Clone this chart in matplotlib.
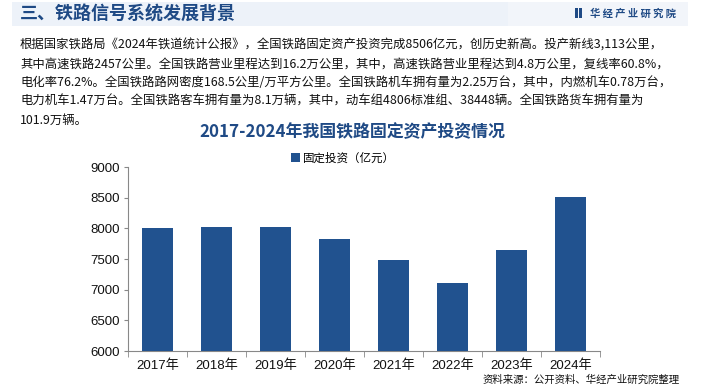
import matplotlib
matplotlib.use("Agg")
import matplotlib.pyplot as plt
from matplotlib.patches import Rectangle

plt.rcParams['font.family'] = ['Noto Sans CJK SC', 'DejaVu Sans']

years = ['2017年', '2018年', '2019年', '2020年', '2021年', '2022年', '2023年', '2024年']
investment = [8010, 8028, 8029, 7819, 7489, 7109, 7645, 8506]
yticks = [6000, 6500, 7000, 7500, 8000, 8500, 9000]

header = '三、铁路信号系统发展背景'
body_lines = [
    '根据国家铁路局《2024年铁道统计公报》，全国铁路固定资产投资完成8506亿元，创历史新高。投产新线3,113公里，',
    '其中高速铁路2457公里。全国铁路营业里程达到16.2万公里，其中，高速铁路营业里程达到4.8万公里，复线率60.8%，',
    '电化率76.2%。全国铁路路网密度168.5公里/万平方公里。全国铁路机车拥有量为2.25万台，其中，内燃机车0.78万台，',
    '电力机车1.47万台。全国铁路客车拥有量为8.1万辆，其中，动车组4806标准组、38448辆。全国铁路货车拥有量为',
    '101.9万辆。',
]
chart_title = '2017-2024年我国铁路固定资产投资情况'
legend_label = '固定投资（亿元）'
source = '资料来源：公开资料、华经产业研究院整理'

W, H = 704, 387
blue = '#21528F'
dark = '#1F4A85'
fig = plt.figure(figsize=(W / 100, H / 100), dpi=100)

# header band
fig.patches.append(Rectangle((12 / W, 1 - 26 / H), 496 / W, 24 / H, transform=fig.transFigure,
                             facecolor='#EDF2F9', edgecolor='none', zorder=1))
fig.patches.append(Rectangle((508 / W, 1 - 26 / H), 180 / W, 24 / H, transform=fig.transFigure,
                             facecolor='#F2F5FA', edgecolor='none', zorder=1))
fig.text(20 / W, 1 - 14 / H, header, fontsize=13, fontweight='bold', color=dark,
         va='center', ha='left', zorder=2)
fig.patches.append(Rectangle((575 / W, 1 - 18 / H), 3 / W, 10 / H, transform=fig.transFigure,
                             facecolor=dark, edgecolor='none', zorder=2))
fig.patches.append(Rectangle((579 / W, 1 - 18 / H), 3 / W, 10 / H, transform=fig.transFigure,
                             facecolor=dark, edgecolor='none', zorder=2))
fig.text(590 / W, 1 - 13.5 / H, '华 经 产 业 研 究 院', fontsize=7.4, fontweight='bold', color=dark,
         va='center', ha='left', zorder=2)

# body text
for i, line in enumerate(body_lines):
    fig.text(20 / W, 1 - (45 + i * 18.8) / H, line, fontsize=8.9, color='#111111',
             va='center', ha='left', zorder=2)

fig.text(352 / W, 1 - 132 / H, chart_title, fontsize=12.2, fontweight='bold', color=dark,
         va='center', ha='center', zorder=2)

ax = fig.add_axes([128 / W, 36 / H, 472 / W, 184 / H])
ax.patch.set_alpha(0)
x = range(len(years))
ax.bar(x, investment, width=0.51, color=blue, label=legend_label, zorder=3)
ax.set_ylim(6000, 9000)
ax.set_xlim(-0.5, len(years) - 0.5)
ax.set_yticks(yticks)
ax.set_xticks(list(x))
ax.set_xticklabels(years)
for lab in ax.get_xticklabels() + ax.get_yticklabels():
    lab.set_family(['Liberation Sans', 'Noto Sans CJK SC'])
    lab.set_fontsize(9.5)
    lab.set_color('#111111')
ax.set_xticks([i + 0.5 for i in range(-1, len(years))], minor=True)
ax.tick_params(axis='x', which='major', length=0, pad=6)
ax.tick_params(axis='x', which='minor', length=4, color='#888888', direction='out')
ax.tick_params(axis='y', length=3, color='#888888', direction='out', pad=3)
for s in ['top', 'right']:
    ax.spines[s].set_visible(False)
for s in ['left', 'bottom']:
    ax.spines[s].set_color('#888888')
    ax.spines[s].set_linewidth(0.8)

ax.legend(loc='center', bbox_to_anchor=((343 - 128) / 472, (387 - 158 - 36) / 184), frameon=False,
          fontsize=8.3, handlelength=0.8, handleheight=0.8, handletextpad=0.3,
          bbox_transform=ax.transAxes)

fig.text(680 / W, 1 - 380 / H, source, fontsize=7.5, color='#111111',
         va='center', ha='right', zorder=2)

fig.savefig('out.png', dpi=100)
